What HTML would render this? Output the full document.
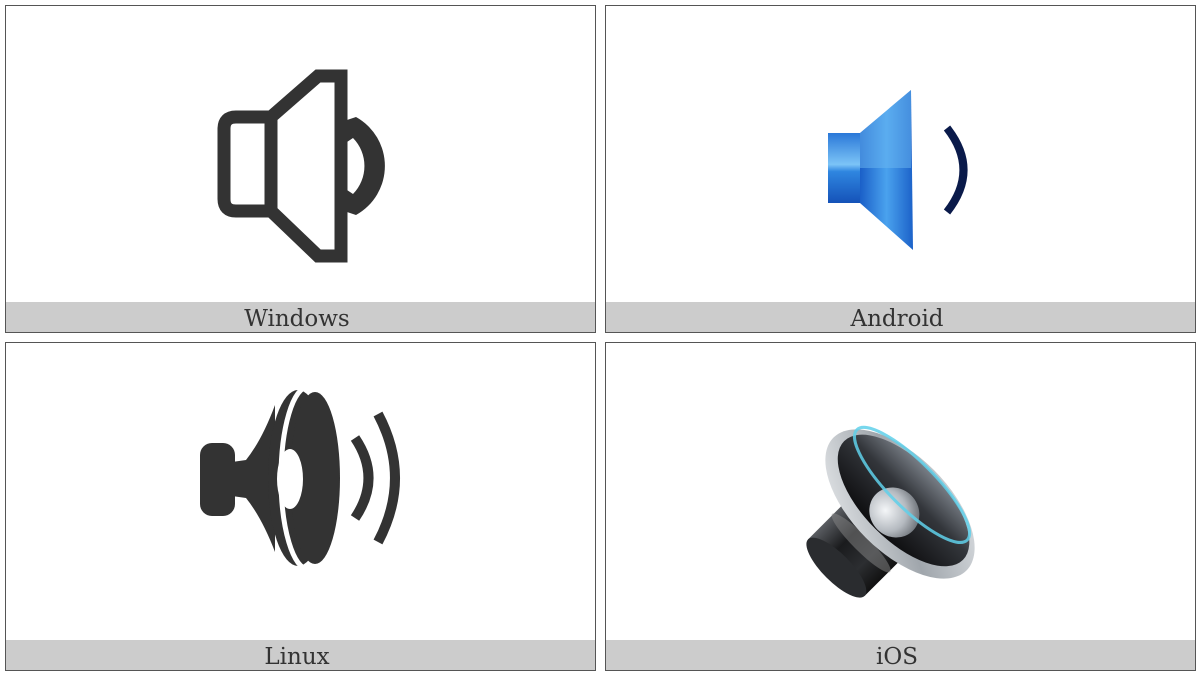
<!DOCTYPE html>
<html><head><meta charset="utf-8"><style>
html,body{margin:0;padding:0;background:#fff;}
svg{display:block}
text{font-family:"DejaVu Serif","Liberation Serif",serif;font-size:23px;fill:#333}
</style></head><body>
<svg width="1200" height="675" viewBox="0 0 1200 675" xmlns="http://www.w3.org/2000/svg">
<defs>
<linearGradient id="bl" x1="0" x2="1"><stop offset="0" stop-color="#1a5fc8"/><stop offset=".5" stop-color="#4aa2ee"/><stop offset="1" stop-color="#1c62c9"/></linearGradient>
<linearGradient id="bl2" x1="0" y1="0" x2="0" y2="1"><stop offset="0" stop-color="#2a78d8"/><stop offset=".45" stop-color="#7cc4f7"/><stop offset=".55" stop-color="#2f86e0"/><stop offset="1" stop-color="#1552b8"/></linearGradient>
<radialGradient id="dome" cx=".4" cy=".35" r=".7"><stop offset="0" stop-color="#f4f6f8"/><stop offset=".6" stop-color="#b5bac0"/><stop offset="1" stop-color="#6a6f75"/></radialGradient>
<linearGradient id="rim" x1="0" y1="0" x2="1" y2="1"><stop offset="0" stop-color="#eef0f2"/><stop offset=".5" stop-color="#a0a6ac"/><stop offset="1" stop-color="#e4e7ea"/></linearGradient>
<linearGradient id="cone" x1="0" y1="0" x2="1" y2="0"><stop offset="0" stop-color="#0e0e10"/><stop offset=".6" stop-color="#33363b"/><stop offset="1" stop-color="#7a8088"/></linearGradient>
<linearGradient id="mag" x1="0" y1="0" x2="0" y2="1"><stop offset="0" stop-color="#5a5d62"/><stop offset=".35" stop-color="#1a1b1d"/><stop offset=".7" stop-color="#2c2e31"/><stop offset="1" stop-color="#111"/></linearGradient>
</defs>
<rect x="5.5" y="5.5" width="590" height="327" fill="#fff" stroke="#555"/>
<rect x="605.5" y="5.5" width="590" height="327" fill="#fff" stroke="#555"/>
<rect x="5.5" y="342.5" width="590" height="328" fill="#fff" stroke="#555"/>
<rect x="605.5" y="342.5" width="590" height="328" fill="#fff" stroke="#555"/>
<rect x="6" y="302" width="589" height="30" fill="#ccc"/>
<rect x="606" y="302" width="589" height="30" fill="#ccc"/>
<rect x="6" y="640" width="589" height="30" fill="#ccc"/>
<rect x="606" y="640" width="589" height="30" fill="#ccc"/>
<text x="297" y="326" text-anchor="middle">Windows</text>
<text x="897" y="326" text-anchor="middle">Android</text>
<text x="297" y="664" text-anchor="middle">Linux</text>
<text x="897" y="664" text-anchor="middle">iOS</text>

<!-- Windows -->
<g fill="none" stroke="#333" stroke-width="13">
<path d="M271,117 H236 Q224,117 224,129 V199 Q224,211 236,211 H271 Z"/>
<path d="M271,117 L318,76 L341,76 L341,256 L318,256 L271,211 Z"/>
</g>
<path d="M347,120 L356,117 A56,56 0 0 1 356,215 L347,212 L347,190 L353,194 A40,40 0 0 0 353,138 L347,142 Z" fill="#333"/>

<!-- Android -->
<rect x="828" y="133" width="33" height="70" fill="url(#bl2)"/>
<path d="M860,133 L911,90 L913,250 L860,203 Z" fill="url(#bl)"/>
<path d="M860,133 L911,90 L911,168 L860,168 Z" fill="#6bb8f2" opacity=".5"/>
<path d="M947,128 Q980,170 947,212" fill="none" stroke="#0a1a4a" stroke-width="8"/>

<!-- Linux -->
<g fill="#333">
<rect x="200" y="443" width="35" height="73" rx="12"/>
<path d="M232,462 L246,460 Q262,440 275,405 L275,552 Q262,518 246,498 L232,496 Z"/>
<ellipse cx="298" cy="478" rx="30" ry="88"/>
<ellipse cx="308" cy="478" rx="27" ry="91" fill="none" stroke="#fff" stroke-width="5"/>
<ellipse cx="315" cy="478" rx="25" ry="86"/>
<ellipse cx="290" cy="479" rx="13" ry="30" fill="#fff"/>
</g>
<g fill="none" stroke="#333" stroke-width="10">
<path d="M355,438 Q382,478 355,518"/>
<path d="M378,414 Q412,478 378,542"/>
</g>

<!-- iOS -->
<g transform="translate(900,504) rotate(-45)">
<rect x="-90" y="-40" width="70" height="80" fill="url(#mag)"/>
<ellipse cx="-90" cy="0" rx="14" ry="40" fill="#2a2c2f"/>
<ellipse cx="-55" cy="0" rx="8" ry="41" fill="#888" opacity=".5"/>
<ellipse cx="0" cy="0" rx="48" ry="94" fill="url(#rim)"/>
<ellipse cx="5" cy="0" rx="40" ry="84" fill="url(#cone)"/>
<ellipse cx="-10" cy="2" rx="24" ry="26" fill="url(#dome)"/>
<ellipse cx="22" cy="-5" rx="23" ry="78" fill="none" stroke="#5fd0ea" stroke-width="3" opacity=".85"/>
</g>
</svg>
</body></html>
